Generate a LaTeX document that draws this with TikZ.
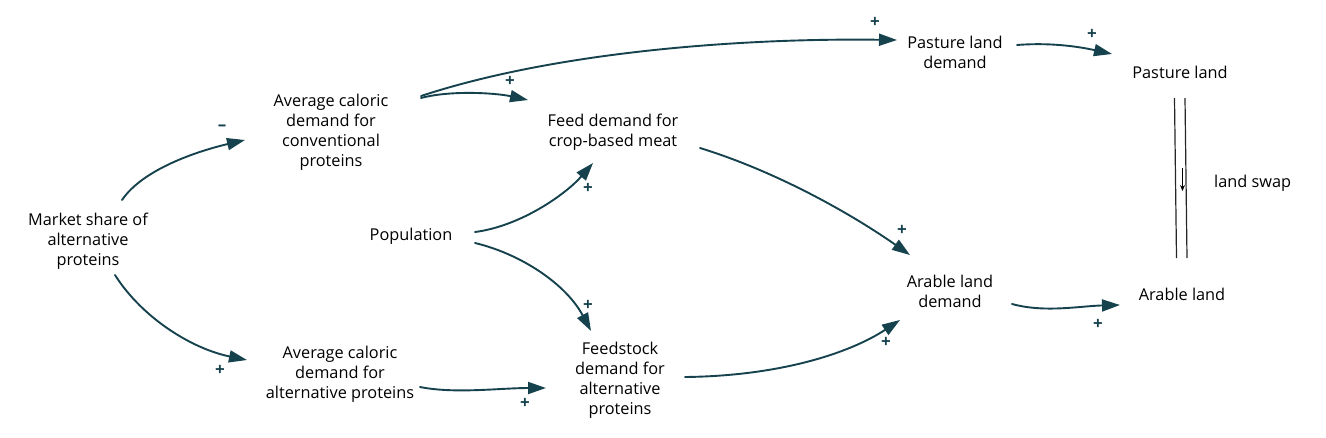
\documentclass[tikz,border=0pt]{standalone}
\usepackage{fontspec}
\setmainfont{Open Sans}
\usetikzlibrary{arrows.meta,calc}
\definecolor{link}{RGB}{22,66,78}
\begin{document}
\begin{tikzpicture}[x=1pt,y=-1pt,
  var/.style={align=center,font=\fontsize{16.3}{20}\selectfont,inner sep=0pt,text=black},
  pol/.style={font=\fontsize{17}{17}\selectfont\bfseries,text=link,inner sep=0pt},
  lk/.style={draw=link,line width=1.9pt,-{Triangle[length=18pt,width=12pt]},line cap=round}]
\useasboundingbox (0,0) rectangle (1326,437);
% variables
\node[var] (ms) at (88,241) {Market share of\\alternative\\proteins};
\node[var] (conv) at (331,132) {Average caloric\\demand for\\conventional\\proteins};
\node[var] (alt) at (340,374) {Average caloric\\demand for\\alternative proteins};
\node[var] (pop) at (411,236) {Population};
\node[var] (feed) at (613,132) {Feed demand for\\crop-based meat};
\node[var] (fs) at (620,380) {Feedstock\\demand for\\alternative\\proteins};
\node[var] (pld) at (955,52) {Pasture land\\demand};
\node[var] (pl) at (1180,72) {Pasture land};
\node[var] (ald) at (950,291) {Arable land\\demand};
\node[var] (al) at (1182,294) {Arable land};
\node[var,anchor=west] (ls) at (1214,183) {land swap};
% links
\draw[lk] ($(ms)+(34,-41)$) .. controls ($(ms)+(55,-72)$) and ($(ms)+(110,-90)$) .. ($(conv)+(-86,8)$);
\draw[lk] ($(ms)+(27,34)$) .. controls ($(ms)+(55,78)$) and ($(ms)+(105,108)$) .. ($(alt)+(-93,-14)$);
\draw[lk] ($(conv)+(90,-34)$) .. controls ($(conv)+(120,-42)$) and ($(conv)+(165,-39)$) .. ($(feed)+(-85,-32)$);
\draw[lk] ($(conv)+(90,-36)$) .. controls ($(conv)+(230,-82)$) and ($(conv)+(420,-94)$) .. ($(pld)+(-58,-12)$);
\draw[lk] ($(pop)+(64,-4)$) .. controls ($(pop)+(110,-10)$) and ($(pop)+(155,-42)$) .. ($(feed)+(-20,31)$);
\draw[lk] ($(pop)+(64,7)$) .. controls ($(pop)+(110,18)$) and ($(pop)+(155,48)$) .. ($(fs)+(-29,-49)$);
\draw[lk] ($(alt)+(80,13)$) .. controls ($(alt)+(115,20)$) and ($(alt)+(160,14)$) .. ($(fs)+(-74,8)$);
\draw[lk] ($(feed)+(87,16)$) .. controls ($(feed)+(165,40)$) and ($(feed)+(240,83)$) .. ($(ald)+(-40,-36)$);
\draw[lk] ($(fs)+(65,-3)$) .. controls ($(fs)+(160,-4)$) and ($(fs)+(230,-27)$) .. ($(ald)+(-50,29)$);
\draw[lk] ($(pld)+(62,-7)$) .. controls ($(pld)+(100,-10)$) and ($(pld)+(130,-4)$) .. ($(pl)+(-68,-18)$);
\draw[lk] ($(ald)+(62,13)$) .. controls ($(ald)+(95,22)$) and ($(ald)+(130,15)$) .. ($(al)+(-62,11)$);
% polarities
\node[pol] (p1) at (222,128) {\textendash};
\node[pol] (p2) at (220,370) {+};
\node[pol] (p3) at (510,81) {+};
\node[pol] (p4) at (875,22) {+};
\node[pol] (p5) at (588,188) {+};
\node[pol] (p6) at (588,305) {+};
\node[pol] (p7) at (525,403) {+};
\node[pol] (p8) at (902,230) {+};
\node[pol] (p9) at (886,342) {+};
\node[pol] (p10) at (1092,34) {+};
\node[pol] (p11) at (1098,324) {+};
% land swap flow
\coordinate (ft) at ($(pl)+(0,26)$);
\coordinate (fb) at ($(al)+(0,-36)$);
\draw[line width=1.2pt,black!85] ([xshift=-5.5pt]ft) -- ([xshift=-5.5pt]fb);
\draw[line width=1.2pt,black!85] ([xshift=5pt]ft) -- ([xshift=5pt]fb);
\draw[line width=1.2pt,black,-{Stealth[length=6pt,width=5pt]}] ($(ft)+(2.5,70)$) -- ($(ft)+(2.5,93)$);
\end{tikzpicture}
\end{document}
